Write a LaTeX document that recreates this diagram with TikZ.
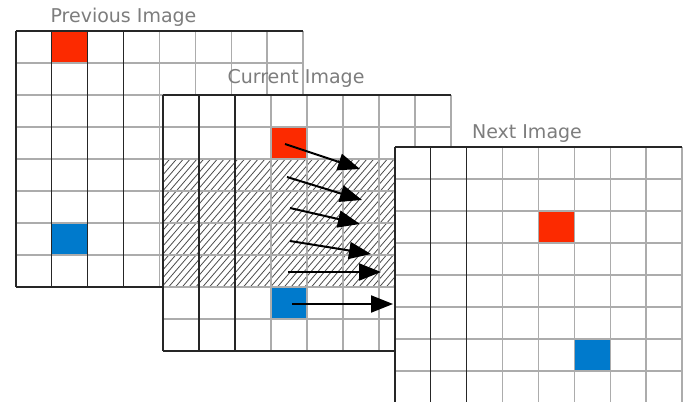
\documentclass[tikz,border=0pt]{standalone}
\usepackage{fontspec}
\setmainfont{DejaVu Sans}
\usetikzlibrary{arrows.meta}
\definecolor{cellred}{RGB}{252,42,0}
\definecolor{cellblue}{RGB}{0,122,204}
\definecolor{gridgray}{RGB}{172,172,172}
\definecolor{labelgray}{RGB}{125,125,125}
\newcommand\gridlines[4]{% x0, y0, cell width, last dark column line
  \foreach \i in {1,...,7} \draw[gray line] (#1,#2+\i*32) -- ++(8*#3,0);
  \foreach \i in {#4,...,8} \draw[gray line] (#1+\i*#3,#2) -- ++(0,256);
  \foreach \i in {0,...,#4} \draw[dark line] (#1+\i*#3,#2) -- ++(0,256);
  \draw[dark line] (#1,#2) -- ++(8*#3,0);
  \draw[dark line] (#1,#2+256) -- ++(8*#3,0);
}
\begin{document}
\begin{tikzpicture}[x=1pt,y=-1pt,
  gray line/.style={draw=gridgray,line width=1.3pt},
  dark line/.style={draw=black!85,line width=1.2pt},
  sheetlabel/.style={font=\fontsize{19}{21}\selectfont,text=labelgray,anchor=base,inner sep=0pt},
  motion/.style={draw=black,line width=2pt,-{Triangle[length=22pt,width=17pt]}},
  hatch/.style={draw=black!70,line width=0.8pt}]
\clip (0,0) rectangle (689,402);
\fill[white] (0,0) rectangle (689,402);
% previous image
\fill[white] (16,31) rectangle ++(287,256);
\fill[cellred] (16+35.875,31) rectangle ++(35.875,32);
\fill[cellblue] (16+35.875,31+6*32) rectangle ++(35.875,32);
\gridlines{16}{31}{35.875}{3}
% current image
\fill[white] (163,95) rectangle ++(288,256);
\begin{scope}
  \clip (163,159) rectangle (451,287);
  \foreach \k in {0,...,58} \draw[hatch] (53+\k*6.8,287) -- ++(110,-128);
\end{scope}
\fill[cellred] (163+3*36,95+32) rectangle ++(36,32);
\fill[cellblue] (163+3*36,95+6*32) rectangle ++(36,32);
\gridlines{163}{95}{36}{2}
% motion arrows
\coordinate (s1) at (285,144); \coordinate (e1) at (360,169);
\coordinate (s2) at (287,177); \coordinate (e2) at (362,200);
\coordinate (s3) at (290,208); \coordinate (e3) at (360,224);
\coordinate (s4) at (290,241); \coordinate (e4) at (371,254);
\coordinate (s5) at (288,272); \coordinate (e5) at (381,272);
\coordinate (s6) at (292,304); \coordinate (e6) at (393,304);
\foreach \n in {1,...,6} \draw[motion] (s\n) -- (e\n);
% next image
\fill[white] (395,147) rectangle ++(287,256);
\fill[cellred] (395+4*35.875,147+2*32) rectangle ++(35.875,32);
\fill[cellblue] (395+5*35.875,147+6*32) rectangle ++(35.875,32);
\gridlines{395}{147}{35.875}{2}
% labels
\node[sheetlabel] (prevlabel) at (123.5,22) {Previous Image};
\node[sheetlabel] (curlabel) at (296,83) {Current Image};
\node[sheetlabel] (nextlabel) at (527,138) {Next Image};
\end{tikzpicture}
\end{document}
